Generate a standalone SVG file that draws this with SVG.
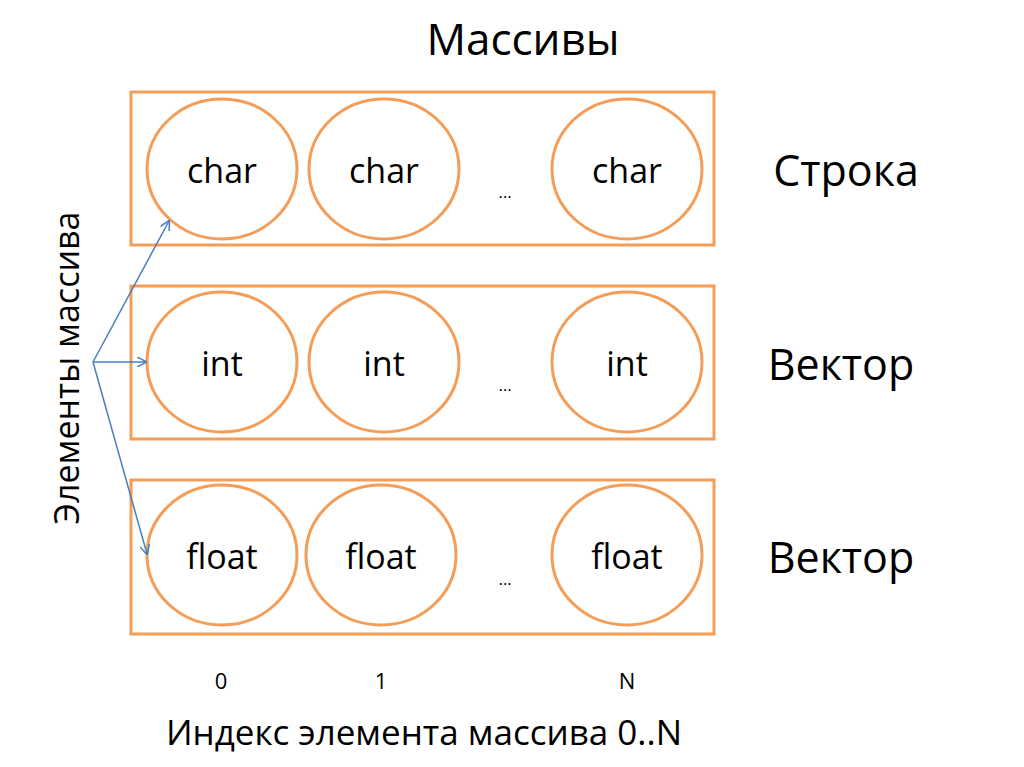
<svg xmlns="http://www.w3.org/2000/svg" width="1024" height="767" viewBox="0 0 1024 767">
<style>
.box{fill:none;stroke:#F59D56;stroke-width:3}
.el{fill:#fff;stroke:#F59D56;stroke-width:3}
text{font-family:"Open Sans","Noto Sans",sans-serif;fill:#000}
.lbl{font-size:34px;text-anchor:middle}
.dots{font-size:17px;text-anchor:middle}
.row{font-size:43px}
.idx{font-size:22px;text-anchor:middle}
.con{stroke:#4A7EBB;stroke-width:1.5;fill:none;marker-end:url(#ah)}
</style>
<defs>
<marker id="ah" viewBox="0 0 10 10" refX="9" refY="5" markerWidth="10" markerHeight="10" markerUnits="userSpaceOnUse" orient="auto">
<path d="M0,0 L10,5 L0,10" fill="none" stroke="#4A7EBB" stroke-width="1.5"/>
</marker>
</defs>
<rect width="1024" height="767" fill="#fff"/>
<text x="523" y="55" style="font-size:44px;text-anchor:middle">Массивы</text>
<g id="row1">
<rect class="box" x="131" y="92" width="583" height="153"/>
<g id="r1c0"><ellipse class="el" cx="222" cy="169" rx="75" ry="70"/><text class="lbl" x="222" y="183">char</text></g>
<g id="r1c1"><ellipse class="el" cx="384" cy="169" rx="75" ry="70"/><text class="lbl" x="384" y="183">char</text></g>
<text class="dots" x="505" y="198">…</text>
<g id="r1cN"><ellipse class="el" cx="627" cy="169" rx="75" ry="70"/><text class="lbl" x="627" y="183">char</text></g>
</g>
<g id="row2">
<rect class="box" x="131" y="286" width="583" height="153"/>
<g id="r2c0"><ellipse class="el" cx="222" cy="362" rx="75" ry="70"/><text class="lbl" x="222" y="376">int</text></g>
<g id="r2c1"><ellipse class="el" cx="384" cy="362" rx="75" ry="70"/><text class="lbl" x="384" y="376">int</text></g>
<text class="dots" x="505" y="391">…</text>
<g id="r2cN"><ellipse class="el" cx="627" cy="362" rx="75" ry="70"/><text class="lbl" x="627" y="376">int</text></g>
</g>
<g id="row3">
<rect class="box" x="131" y="480" width="583" height="154"/>
<g id="r3c0"><ellipse class="el" cx="222" cy="555" rx="75" ry="70"/><text class="lbl" x="222" y="569">float</text></g>
<g id="r3c1"><ellipse class="el" cx="381" cy="555" rx="75" ry="70"/><text class="lbl" x="381" y="569">float</text></g>
<text class="dots" x="505" y="585">…</text>
<g id="r3cN"><ellipse class="el" cx="627" cy="555" rx="75" ry="70"/><text class="lbl" x="627" y="569">float</text></g>
</g>
<g id="labels">
<text class="row" x="846" y="186" text-anchor="middle">Строка</text>
<text class="row" x="841" y="380" text-anchor="middle">Вектор</text>
<text class="row" x="841" y="573" text-anchor="middle">Вектор</text>
<text x="79" y="368" transform="rotate(-90 79 368)" style="font-size:34px;text-anchor:middle">Элементы массива</text>
<text class="idx" x="221" y="689">0</text>
<text class="idx" x="381" y="689">1</text>
<text class="idx" x="627" y="689">N</text>
<text x="424" y="745" style="font-size:35px;text-anchor:middle">Индекс элемента массива 0..N</text>
</g>
<g id="connectors">
<line class="con" x1="93" y1="362" x2="169" y2="221"/>
<line class="con" x1="93" y1="362" x2="146" y2="362"/>
<line class="con" x1="93" y1="362" x2="147" y2="554"/>
</g>
</svg>
